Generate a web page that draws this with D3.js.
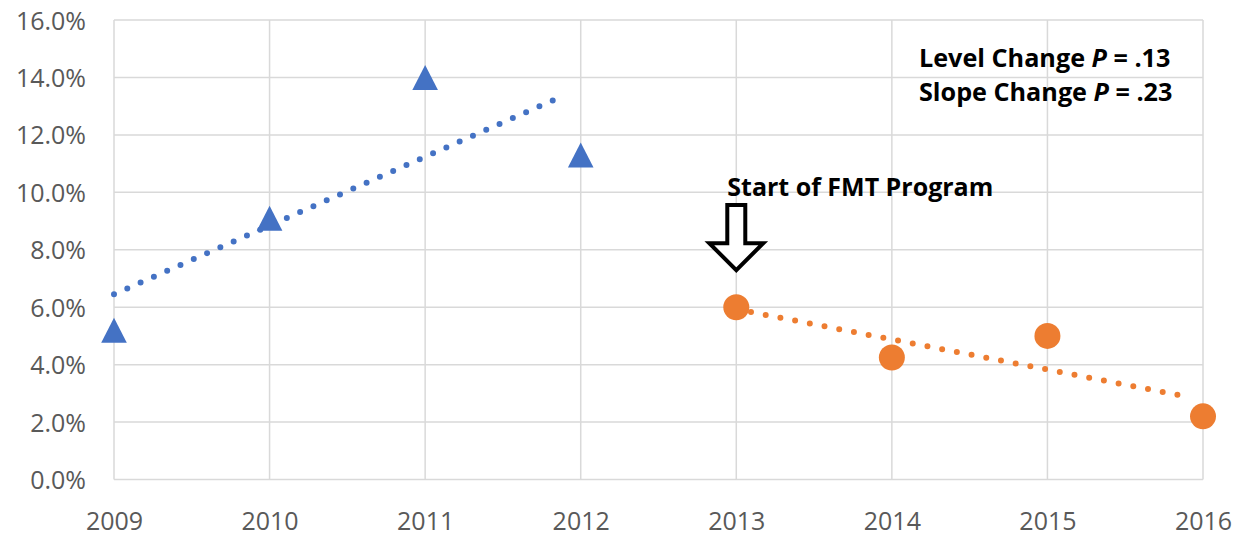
<!DOCTYPE html>
<html>
<head>
<meta charset="utf-8">
<script src="https://cdn.jsdelivr.net/npm/d3@7"></script>
<style>
  body { margin: 0; background: #fff; }
  .tick text { font-family: "Open Sans", sans-serif; fill: #595959; }
  .note { font-family: "Open Sans", sans-serif; font-weight: bold; fill: #000; }
</style>
</head>
<body>
<div id="chart"></div>
<script>
// data (rates in %)
var years = [2009, 2010, 2011, 2012, 2013, 2014, 2015, 2016];
var yTicks = [0, 2, 4, 6, 8, 10, 12, 14, 16];
var preYears = [2009, 2010, 2011, 2012];
var preRate = [5.2, 9.1, 14.0, 11.3];
var postYears = [2013, 2014, 2015, 2016];
var postRate = [6.0, 4.25, 5.0, 2.2];
// dotted trend lines, end points
var preTrendX = [2009, 2011.82];
var preTrendY = [6.45, 13.2];
var postTrendX = [2013, 2015.93];
var postTrendY = [5.93, 2.85];

var W = 1247, H = 538;
var margin = { top: 20, right: 44, bottom: 58.5, left: 114 };

var svg = d3.select("#chart").append("svg")
    .attr("width", W)
    .attr("height", H);

var x = d3.scaleLinear().domain([2009, 2016]).range([margin.left, W - margin.right]);
var y = d3.scaleLinear().domain([0, 16]).range([H - margin.bottom, margin.top]);

var blue = "#4472C4", orange = "#ED7D31", grid = "#d9d9d9";

// gridlines
svg.append("g").selectAll("line.h")
    .data(yTicks)
    .enter().append("line")
      .attr("x1", x(2009)).attr("x2", x(2016))
      .attr("y1", function(d) { return y(d); })
      .attr("y2", function(d) { return y(d); })
      .attr("stroke", grid).attr("stroke-width", 1.5);

svg.append("g").selectAll("line.v")
    .data(years)
    .enter().append("line")
      .attr("x1", function(d) { return x(d); })
      .attr("x2", function(d) { return x(d); })
      .attr("y1", y(0)).attr("y2", y(16))
      .attr("stroke", grid).attr("stroke-width", 1.5);

// axes
var yAxis = svg.append("g")
    .attr("transform", "translate(" + (margin.left - 28) + ",0)")
    .call(d3.axisLeft(y).tickValues(yTicks).tickSize(0)
      .tickFormat(function(d) { return d3.format(".1%")(d / 100); }));
yAxis.select(".domain").remove();
yAxis.selectAll("text").attr("font-size", 25).attr("dy", "0.36em").attr("x", 0);

var xAxis = svg.append("g")
    .attr("transform", "translate(0," + y(0) + ")")
    .call(d3.axisBottom(x).tickValues(years).tickSize(0).tickFormat(d3.format("d")));
xAxis.select(".domain").remove();
xAxis.selectAll("text").attr("font-size", 25).attr("dy", 0).attr("y", 50);

// trend lines (round dots, gap fitted so a dot lands on both ends)
var line = d3.line()
    .x(function(d) { return x(d[0]); })
    .y(function(d) { return y(d[1]); });

function dotted(xs, ys, color, gap) {
  var p = svg.append("path")
      .datum(d3.zip(xs, ys))
      .attr("d", line)
      .attr("fill", "none")
      .attr("stroke", color)
      .attr("stroke-width", 6)
      .attr("stroke-linecap", "round");
  var len = p.node().getTotalLength();
  var g = len / Math.round(len / gap);
  p.attr("stroke-dasharray", "0 " + g);
}
dotted(preTrendX, preTrendY, blue, 14.6);
dotted(postTrendX, postTrendY, orange, 14.9);

// pre-program triangles
var tri = "M0,-12.5L12.8,12.5L-12.8,12.5Z";
svg.append("g").selectAll("path")
    .data(d3.zip(preYears, preRate))
    .enter().append("path")
      .attr("d", tri)
      .attr("transform", function(d) { return "translate(" + x(d[0]) + "," + y(d[1]) + ")"; })
      .attr("fill", blue);

// post-program circles
svg.append("g").selectAll("circle")
    .data(d3.zip(postYears, postRate))
    .enter().append("circle")
      .attr("cx", function(d) { return x(d[0]); })
      .attr("cy", function(d) { return y(d[1]); })
      .attr("r", 13)
      .attr("fill", orange);

// annotations
var ax = x(2013);
var aTop = y(9.56), aBase = y(8.23), aTip = y(7.29);
svg.append("path")
    .attr("d", "M" + (ax - 9) + "," + aTop + "L" + (ax + 9) + "," + aTop +
               "L" + (ax + 9) + "," + aBase + "L" + (ax + 27) + "," + aBase +
               "L" + ax + "," + aTip + "L" + (ax - 27) + "," + aBase +
               "L" + (ax - 9) + "," + aBase + "Z")
    .attr("fill", "#fff")
    .attr("stroke", "#000")
    .attr("stroke-width", 4)
    .attr("stroke-linejoin", "miter");

svg.append("text")
    .attr("class", "note")
    .attr("x", ax - 9)
    .attr("y", y(9.87))
    .attr("font-size", 25)
    .text("Start of FMT Program");

var notes = [["Level Change ", "P", " = .13"], ["Slope Change ", "P", " = .23"]];
svg.append("g").selectAll("text")
    .data(notes)
    .enter().append("text")
      .attr("class", "note")
      .attr("x", 919)
      .attr("y", function(d, i) { return 67 + i * 34; })
      .attr("font-size", 25.2)
      .each(function(d) {
        var t = d3.select(this);
        t.append("tspan").text(d[0]);
        t.append("tspan").attr("font-style", "italic").text(d[1]);
        t.append("tspan").text(d[2]);
      });
</script>
</body>
</html>
